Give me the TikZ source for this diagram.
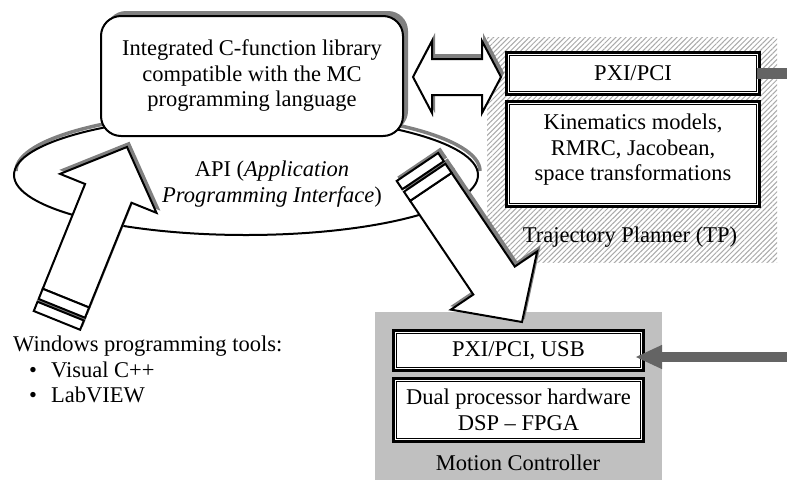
\documentclass[tikz,border=0pt]{standalone}
\usepackage{fontspec}
\setmainfont{Liberation Serif}
\usetikzlibrary{arrows.meta,patterns.meta,shadows}
\definecolor{shadowgray}{RGB}{128,128,128}
\definecolor{mcgray}{RGB}{192,192,192}
\definecolor{linegray}{RGB}{100,100,100}
\definecolor{hatchgray}{RGB}{170,170,170}
\begin{document}
\begin{tikzpicture}[x=1pt,y=-1pt,
  txt/.style={font=\fontsize{22.5}{25.5}\selectfont, inner sep=0pt, align=center},
  topbox/.style={txt, draw=black, line width=2pt, fill=white, rounded corners=20pt,
    minimum width=302pt, minimum height=120pt,
    drop shadow={shadow xshift=5pt, shadow yshift=5pt, fill=shadowgray, opacity=1}},
  dblbox/.style={txt, fill=white, draw=black, line width=1pt,
    preaction={draw=black, line width=9pt},
    preaction={draw=white, line width=3pt}},
  greyline/.style={draw=linegray, line cap=butt},
  shadowfill/.style={fill=shadowgray, draw=shadowgray, line width=2pt},
  arrowfill/.style={fill=white, draw=black, line width=2pt, line join=miter},
  blockarrow/.pic={
    \path[pic actions] (0,0) -- (-50,52) -- (-50,25) -- (-163,25) -- (-163,-25)
      -- (-50,-25) -- (-50,-52) -- cycle;
    \path[pic actions] (-163,-25) rectangle (-174,25);
    \path[pic actions] (-177,-25) rectangle (-187,25);
  },
  twoheadarrow/.pic={
    \path[pic actions] (0,0) -- (19,-36) -- (19,-18) -- (69,-18) -- (69,-36)
      -- (88,0) -- (69,36) -- (69,18) -- (19,18) -- (19,36) -- cycle;
  }
]
\useasboundingbox[fill=white] (0,0) rectangle (787,480);

% API ellipse with its shadow (upper half)
\draw[shadowgray, line width=3.5pt] (16,171) arc[start angle=180, end angle=360, x radius=232, y radius=60];
\draw[black, line width=2pt] (246,175) ellipse [x radius=232, y radius=60];

% Trajectory planner region
\node[pattern={Lines[angle=45,distance=3.6pt,line width=1pt]}, pattern color=hatchgray,
  minimum width=290pt, minimum height=225pt, inner sep=0pt] (tp) at (632,149.5) {};
\node[txt] (tplabel) at (630,237) {Trajectory Planner (TP)};
\node[dblbox, minimum width=247pt, minimum height=36pt] (tppxi) at (633,73.5) {PXI/PCI};
\node[dblbox, minimum width=247pt, minimum height=99pt] (tpkin) at (633,154) {};
\node[txt] (tpkintext) at (633,150) {Kinematics models,\\RMRC, Jacobean,\\space transformations};

% Motion controller region
\node[fill=mcgray, minimum width=287pt, minimum height=168pt, inner sep=0pt] (mc) at (518.5,396) {};
\node[dblbox, minimum width=244pt, minimum height=34pt] (mcpxi) at (518.5,350.5) {PXI/PCI, USB};
\node[dblbox, minimum width=244pt, minimum height=57pt] (mcdual) at (518.5,410)
  {Dual processor hardware\\DSP -- FPGA};
\node[txt] (mclabel) at (518,463) {Motion Controller};

% library box
\node[topbox] (lib) at (252,76)
  {Integrated C-function library\\compatible with the MC\\programming language};

% API label
\node[txt] (api) at (272,184) {API (\textit{Application}\\\textit{Programming Interface})};

% block arrows
\pic[shadowfill, rotate=68] at (129,143) {blockarrow};
\pic[arrowfill, rotate=68] at (127,147) {blockarrow};
\pic[shadowfill, rotate=-56] at (524,318) {blockarrow};
\pic[arrowfill, rotate=-56] at (522,322) {blockarrow};
\pic[shadowfill] at (415,73) {twoheadarrow};
\pic[arrowfill] at (413,77) {twoheadarrow};

% grey connectors at right
\coordinate (tpR) at (787,73.5);
\coordinate (mcR) at (787,357);
\draw[greyline, line width=11pt] (tppxi.east) -- (tpR);
\draw[greyline, line width=10pt, -{Triangle[length=27pt,width=22pt]}, shorten >=-6pt]
  (mcR) -- (mcpxi.east |- mcR);

% Windows tools text
\node[txt, align=left, anchor=north west] (win) at (13,336)
  {Windows programming tools:\\
   \hspace*{16pt}\makebox[22pt][l]{•}Visual C++\\
   \hspace*{16pt}\makebox[22pt][l]{•}LabVIEW};
\end{tikzpicture}
\end{document}
